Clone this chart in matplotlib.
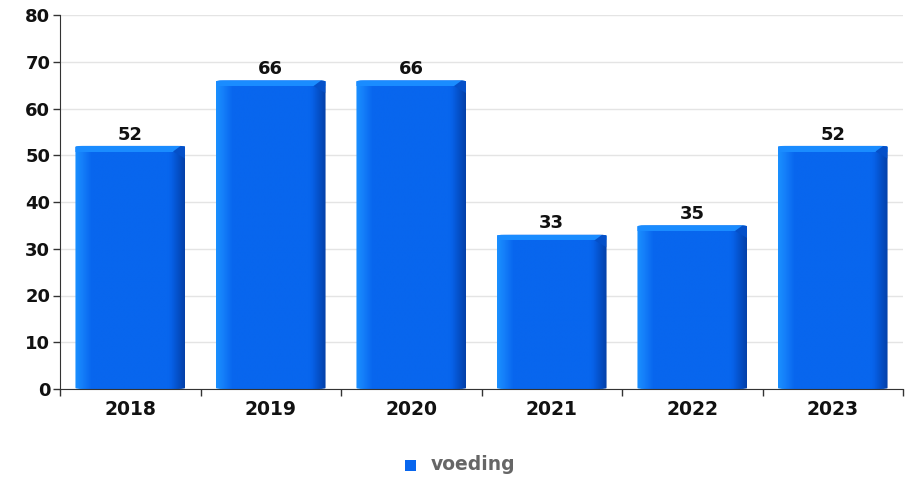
import numpy as np
import matplotlib
matplotlib.use('Agg')
import matplotlib.pyplot as plt
from matplotlib.patches import FancyBboxPatch, Rectangle, Polygon
from matplotlib.colors import LinearSegmentedColormap

years = ['2018', '2019', '2020', '2021', '2022', '2023']
values = [52, 66, 66, 33, 35, 52]
series_name = 'voeding'

BAR_W = 0.78
# left light edge -> flat body -> dark right edge
bar_cmap = LinearSegmentedColormap.from_list(
    'bar3d', [(0.0, '#1a90ff'), (0.06, '#1580fa'), (0.15, '#0866ee'),
              (0.85, '#0866ee'), (0.88, '#0760e6'), (0.93, '#0552cc'), (1.0, '#0440a8')])

fig = plt.figure(figsize=(9.15, 4.78), dpi=100)
ax = fig.add_axes([60 / 915, 89 / 478, 843 / 915, 374 / 478])

x = np.arange(len(years))
ax.set_xlim(-0.5, len(years) - 0.5)
ax.set_ylim(0, 80)

grad = np.linspace(0, 1, 256).reshape(1, -1)
for xi, v in zip(x, values):
    x0 = xi - BAR_W / 2
    clip = FancyBboxPatch((x0, 0), BAR_W, v, boxstyle='round,pad=0,rounding_size=0.05',
                          mutation_aspect=80 / 6 * 0.35, transform=ax.transData,
                          facecolor='none', edgecolor='none')
    ax.add_patch(clip)
    im = ax.imshow(grad, cmap=bar_cmap, aspect='auto', extent=(x0, x0 + BAR_W, 0, v),
                   zorder=2, interpolation='bilinear')
    im.set_clip_path(clip)
    # top bevel highlight
    top = Rectangle((x0, v - 1.2), BAR_W, 1.2, facecolor='#1a8cff', edgecolor='none',
                    zorder=3)
    ax.add_patch(top)
    top.set_clip_path(clip)
    # dark corner on top right
    corner = Polygon([(x0 + BAR_W * 0.89, v - 1.2), (x0 + BAR_W, v - 1.2 - 1.5),
                      (x0 + BAR_W, v), (x0 + BAR_W * 0.96, v)],
                     closed=True, facecolor='#0550c8', edgecolor='none', zorder=3)
    ax.add_patch(corner)
    corner.set_clip_path(clip)
    ax.text(xi, v + 0.5, str(v), ha='center', va='bottom', fontsize=13,
            fontweight='bold', color='#111111', zorder=4)

ax.set_yticks(np.arange(0, 81, 10))
ax.set_xticks(x)
ax.set_xticklabels(years)
ax.set_xticks(np.arange(-0.5, len(years), 1), minor=True)
ax.tick_params(axis='x', which='major', length=0, pad=8, labelsize=13.5)
ax.tick_params(axis='x', which='minor', length=5, width=1, color='#333333')
ax.tick_params(axis='y', length=5, width=1, color='#333333', pad=2, labelsize=13)
for lab in ax.get_xticklabels() + ax.get_yticklabels():
    lab.set_fontweight('bold')
    lab.set_color('#111111')

ax.grid(axis='y', color='#e4e4e4', lw=1)
ax.set_axisbelow(True)
for s in ['top', 'right']:
    ax.spines[s].set_visible(False)
ax.spines['left'].set_color('#333333')
ax.spines['bottom'].set_color('#333333')

# legend
fig.patches.append(Rectangle((405 / 915, 1 - 471 / 478), 11 / 915, 11 / 478,
                             transform=fig.transFigure, facecolor='#0866ee',
                             edgecolor='none'))
fig.text(431 / 915, 1 - 465 / 478, series_name, ha='left', va='center', fontsize=13.5,
         fontweight='bold', color='#666666')

fig.savefig('out.png', dpi=100)
